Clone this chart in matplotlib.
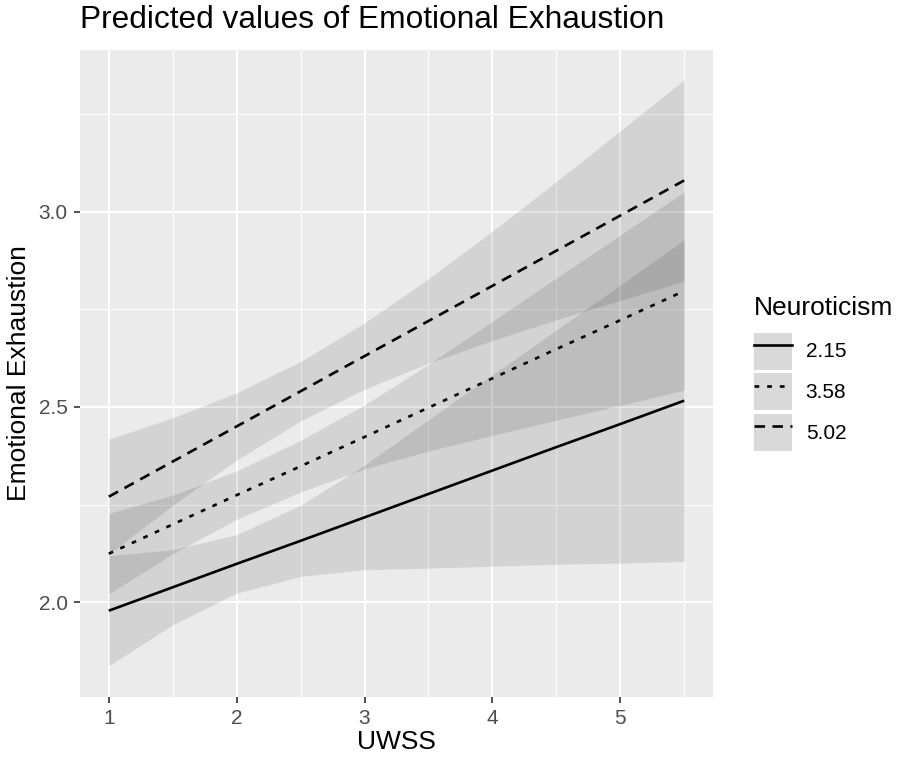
import matplotlib
matplotlib.use("Agg")
import matplotlib.pyplot as plt
from matplotlib.lines import Line2D
from matplotlib.patches import Patch
from matplotlib.legend_handler import HandlerTuple

plt.rcParams['font.family'] = ['Liberation Sans', 'DejaVu Sans']

# UWSS steps used for the predictions
uwss = [1, 1.5, 2, 2.5, 3, 3.5, 4, 4.5, 5, 5.5]
gruppen = ['2.15', '3.58', '5.02']

pred_215 = [1.978, 2.038, 2.098, 2.157, 2.217, 2.277, 2.337, 2.397, 2.456, 2.516]
low_215 = [1.837, 1.942, 2.023, 2.066, 2.083, 2.087, 2.092, 2.097, 2.100, 2.104]
high_215 = [2.119, 2.134, 2.173, 2.248, 2.351, 2.467, 2.582, 2.697, 2.812, 2.928]

pred_358 = [2.124, 2.199, 2.274, 2.348, 2.423, 2.498, 2.573, 2.648, 2.722, 2.797]
low_358 = [2.021, 2.124, 2.212, 2.282, 2.341, 2.387, 2.427, 2.466, 2.504, 2.543]
high_358 = [2.227, 2.274, 2.336, 2.414, 2.505, 2.609, 2.719, 2.830, 2.940, 3.051]

pred_502 = [2.270, 2.360, 2.450, 2.540, 2.630, 2.720, 2.810, 2.900, 2.990, 3.080]
low_502 = [2.123, 2.248, 2.364, 2.464, 2.545, 2.612, 2.670, 2.723, 2.773, 2.822]
high_502 = [2.417, 2.472, 2.536, 2.616, 2.715, 2.828, 2.950, 3.077, 3.207, 3.338]

xticks = [1, 2, 3, 4, 5]
yticks = [2.0, 2.5, 3.0]

preds = [pred_215, pred_358, pred_502]
lows = [low_215, low_358, low_502]
highs = [high_215, high_358, high_502]
estilos = ['-', (0, (1.8, 3.0)), (0, (4, 2.8))]

W, H = 899, 759
fig = plt.figure(figsize=(W / 100, H / 100), dpi=100)
ax = fig.add_axes([80 / W, (H - 697) / H, (713 - 80) / W, (697 - 50) / H])
ax.set_facecolor('#EBEBEB')

for lo, hi in zip(lows, highs):
    ax.fill_between(uwss, lo, hi, color='black', alpha=0.1, linewidth=0, zorder=2)

for p, ls in zip(preds, estilos):
    ax.plot(uwss, p, color='black', linestyle=ls, linewidth=1.9, zorder=3,
            solid_capstyle='butt', dash_capstyle='butt')

ax.set_xlim(0.775, 5.725)
ax.set_ylim(1.757, 3.414)
ax.set_xticks(xticks)
ax.set_xticklabels([str(t) for t in xticks])
ax.set_yticks(yticks)
ax.set_yticklabels(['%.1f' % t for t in yticks])
ax.set_xticks([1.5, 2.5, 3.5, 4.5, 5.5], minor=True)
ax.set_yticks([2.25, 2.75, 3.25], minor=True)
ax.grid(which='major', color='white', linewidth=1.4, zorder=0)
ax.grid(which='minor', color='white', linewidth=0.7, zorder=0)
ax.set_axisbelow(True)
ax.tick_params(which='minor', length=0)
ax.tick_params(which='major', length=4, width=1.2, color='#333333',
               labelcolor='#4D4D4D', labelsize=15, pad=5)
for s in ax.spines.values():
    s.set_visible(False)

ax.set_xlabel('UWSS', fontsize=19, color='black', labelpad=1)
ax.set_ylabel('Emotional Exhaustion', fontsize=19, color='black', labelpad=5)
fig.text(80 / W, 1 - 20 / H, 'Predicted values of Emotional Exhaustion',
         fontsize=22.8, ha='left', va='center')

handles = []
for ls in estilos:
    handles.append((Patch(facecolor='#D9D9D9', edgecolor='none'),
                    Line2D([], [], color='black', linestyle=ls, linewidth=1.9)))
leg = fig.legend(handles, gruppen, title='Neuroticism',
                 handler_map={tuple: HandlerTuple(ndivide=1, pad=0)},
                 loc='upper left', bbox_to_anchor=(754 / W, 1 - 296 / H),
                 frameon=False, fontsize=15, title_fontsize=19,
                 handlelength=1.82, handleheight=2.36, labelspacing=0.17,
                 handletextpad=0.66, borderpad=0, borderaxespad=0)
leg._legend_box.align = 'left'
leg._legend_box.sep = 9

fig.savefig('out.png', dpi=100)
